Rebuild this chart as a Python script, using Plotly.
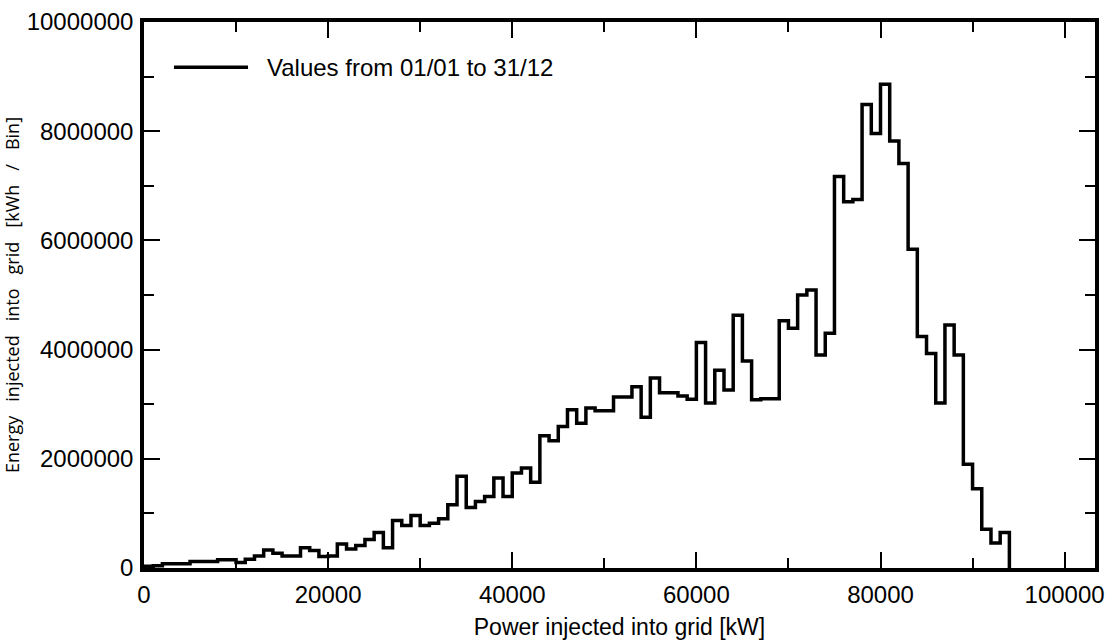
import plotly.graph_objects as go

# Bin starts (kW), bin width 1000 kW
bin_start_kw = list(range(0, 94000, 1000))
bin_end_kw = 94000

energy_kwh = [
    30000, 40000, 80000, 80000, 80000, 120000, 120000, 120000, 150000, 150000,
    100000, 160000, 220000, 330000, 270000, 220000, 220000, 370000, 320000, 210000,
    220000, 440000, 350000, 410000, 520000, 650000, 370000, 870000, 780000, 960000,
    780000, 820000, 900000, 1160000, 1680000, 1110000, 1220000, 1310000, 1650000, 1310000,
    1740000, 1830000, 1570000, 2420000, 2330000, 2590000, 2900000, 2650000, 2930000, 2880000,
    2880000, 3130000, 3130000, 3320000, 2760000, 3480000, 3210000, 3210000, 3150000, 3090000,
    4130000, 3020000, 3620000, 3260000, 4630000, 3790000, 3080000, 3100000, 3100000, 4530000,
    4390000, 5000000, 5090000, 3900000, 4300000, 7170000, 6710000, 6750000, 8490000, 7960000,
    8860000, 7820000, 7410000, 5840000, 4240000, 3930000, 3020000, 4450000, 3900000, 1900000,
    1450000, 710000, 460000, 650000,
]

series_name = "Values from 01/01 to 31/12"
x_title = "Power injected into grid [kW]"
y_title_words = ["Energy", "injected", "into", "grid", "[kWh", "/", "Bin]"]

x_vals = bin_start_kw + [bin_end_kw]
y_vals = energy_kwh + [0]

fig = go.Figure()
fig.add_trace(go.Scatter(
    x=x_vals, y=y_vals, mode="lines", line_shape="hv",
    line=dict(color="black", width=3.5), name=series_name, showlegend=False,
))

sp = "\u00a0\u00a0\u00a0"
y_title = sp.join(y_title_words)

tickfont = dict(family="Arial, Liberation Sans, sans-serif", size=24, color="black")

fig.update_layout(
    width=1109, height=640,
    margin=dict(l=144, r=14, t=22, b=72),
    paper_bgcolor="white", plot_bgcolor="white",
    xaxis=dict(
        range=[0, 103300], tickvals=[0, 20000, 40000, 60000, 80000, 100000],
        tickformat="d", ticks="inside", ticklen=16, tickwidth=2, tickcolor="black",
        showline=True, linewidth=3.5, linecolor="black", mirror="ticks",
        showgrid=False, zeroline=False, tickfont=tickfont, automargin=False,
        ticklabelstandoff=2,
        minor=dict(dtick=10000, tick0=0, ticks="inside", ticklen=10, tickwidth=2, tickcolor="black", showgrid=False),
        title=dict(text=x_title, font=dict(family="Arial, Liberation Sans, sans-serif", size=23, color="black"), standoff=20),
    ),
    yaxis=dict(
        range=[0, 10000000], tickvals=[0, 2000000, 4000000, 6000000, 8000000, 10000000],
        tickformat="d", ticks="inside", ticklen=16, tickwidth=2, tickcolor="black",
        showline=True, linewidth=3.5, linecolor="black", mirror="ticks",
        showgrid=False, zeroline=False, tickfont=tickfont, automargin=False,
        ticklabelstandoff=2,
        minor=dict(dtick=1000000, tick0=0, ticks="inside", ticklen=10, tickwidth=2, tickcolor="black", showgrid=False),
        title=dict(text=y_title, font=dict(family="Open Sans, Noto Sans, sans-serif", size=18, color="black"), standoff=8),
    ),
    shapes=[dict(type="line", xref="paper", yref="paper", x0=0.0315, x1=0.1094, y0=0.9173, y1=0.9173,
                 line=dict(color="black", width=3.5))],
    annotations=[dict(text=series_name, xref="paper", yref="paper", x=0.1272, y=0.9173,
                      xanchor="left", yanchor="middle", showarrow=False,
                      font=dict(family="Arial, Liberation Sans, sans-serif", size=24, color="black"))],
)

fig.write_html("out.html", config={"displayModeBar": False},
               post_script="document.body.style.margin='0';document.body.style.overflow='hidden';")
